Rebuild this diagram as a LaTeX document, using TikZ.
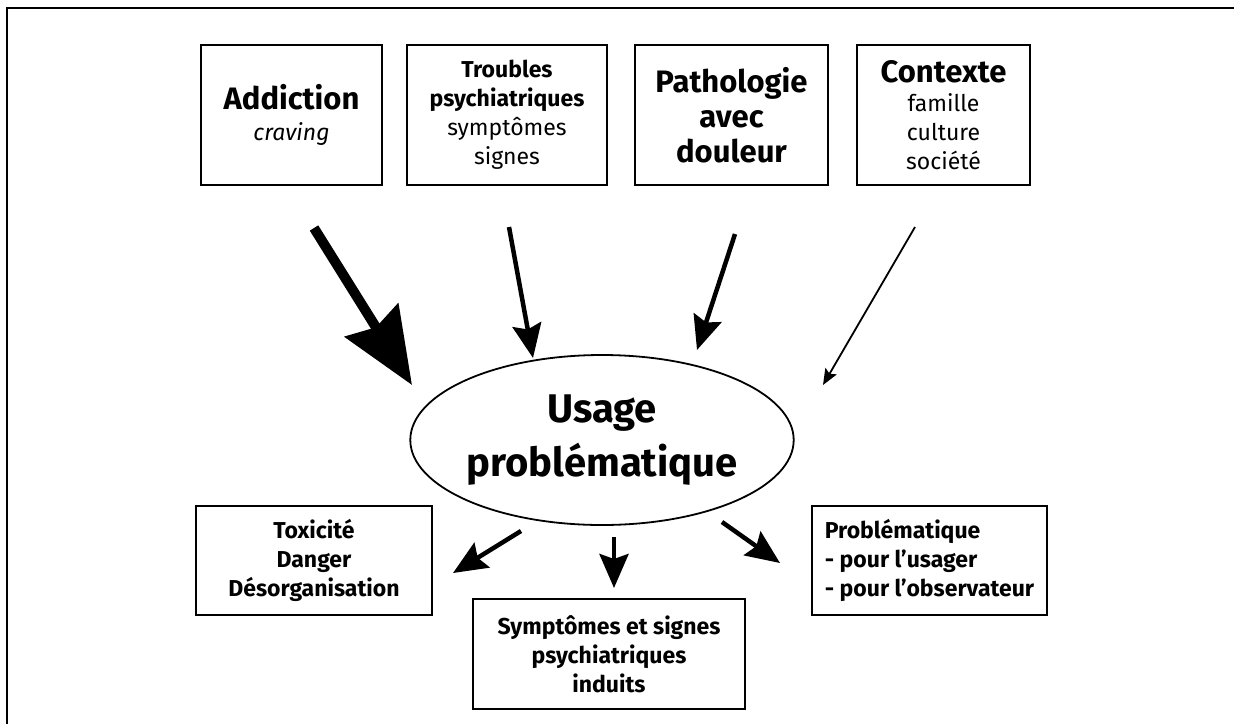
\documentclass[tikz,border=0pt]{standalone}
\usepackage{fontspec}
\setmainfont{Fira Sans}
\usetikzlibrary{arrows.meta, shapes.geometric}

\tikzstyle{topbox} = [draw=black, line width=1.8pt, align=center, inner sep=0pt, minimum height=140pt, font={\fontsize{23}{29}\selectfont}]
\tikzstyle{lowbox} = [draw=black, line width=1.8pt, inner sep=0pt, minimum width=235pt, minimum height=109pt, font={\fontsize{23}{29}\selectfont\bfseries}]
\tikzstyle{usage} = [draw=black, line width=1.8pt, ellipse, inner sep=0pt, minimum width=380pt, minimum height=170pt, align=center, font={\fontsize{40}{54}\selectfont\bfseries}]
\tikzstyle{bigarrow} = [line width=10pt, -{Stealth[length=76pt, width=62pt, inset=8pt]}]
\tikzstyle{midarrow} = [line width=4.5pt, -{Stealth[length=34pt, width=29pt, inset=5pt]}]
\tikzstyle{thinarrow} = [line width=1.8pt, -{Stealth[length=16pt, width=13pt, inset=3pt]}]
\newcommand{\bigline}[1]{{\fontsize{31}{37}\selectfont\bfseries #1}}

\begin{document}
\begin{tikzpicture}[x=1pt, y=-1pt]
\useasboundingbox (0,0) rectangle (1234,724);
\draw [line width=2.5pt] (7,724) -- (7,8) -- (1234,8);

\node [topbox, minimum width=181pt] (addic) at (291.5,115) {\bigline{Addiction}\\[2pt]\textit{craving}};
\node [topbox, minimum width=200pt] (troub) at (507,115) {\textbf{Troubles}\\\textbf{psychiatriques}\\symptômes\\signes};
\node [topbox, minimum width=193pt] (patho) at (731.5,115) {\bigline{Pathologie}\\[6pt]\bigline{avec}\\[6pt]\bigline{douleur}};
\node [topbox, minimum width=173pt] (conte) at (943.5,115) {\bigline{Contexte}\\famille\\culture\\société};

\node [usage] (usage) at (602,440) {Usage\\problématique};

\node [lowbox, minimum width=236pt, align=center] (toxic) at (314,560.5) {Toxicité\\Danger\\Désorganisation};
\node [lowbox, minimum width=272pt, minimum height=110pt, align=center] (sympt) at (609,654) {Symptômes et signes\\psychiatriques\\induits};
\node [lowbox, align=left] (probl) at (929.5,560.5) {Problématique\\- pour l’usager\\- pour l’observateur};

\coordinate (a1) at (314,228);
\coordinate (a2) at (412,385);
\coordinate (b1) at (509,227);
\coordinate (b2) at (533,358);
\coordinate (c1) at (735,234);
\coordinate (c2) at (697,350);
\coordinate (d1) at (915,227);
\coordinate (d2) at (823,385);
\coordinate (e1) at (521,531);
\coordinate (e2) at (453,573);
\coordinate (f1) at (614,537);
\coordinate (f2) at (614,588);
\coordinate (g1) at (722,522);
\coordinate (g2) at (780,563);

\draw [bigarrow] (a1) -- (a2);
\draw [midarrow] (b1) -- (b2);
\draw [midarrow] (c1) -- (c2);
\draw [thinarrow] (d1) -- (d2);
\draw [midarrow] (e1) -- (e2);
\draw [midarrow] (f1) -- (f2);
\draw [midarrow] (g1) -- (g2);
\end{tikzpicture}
\end{document}
